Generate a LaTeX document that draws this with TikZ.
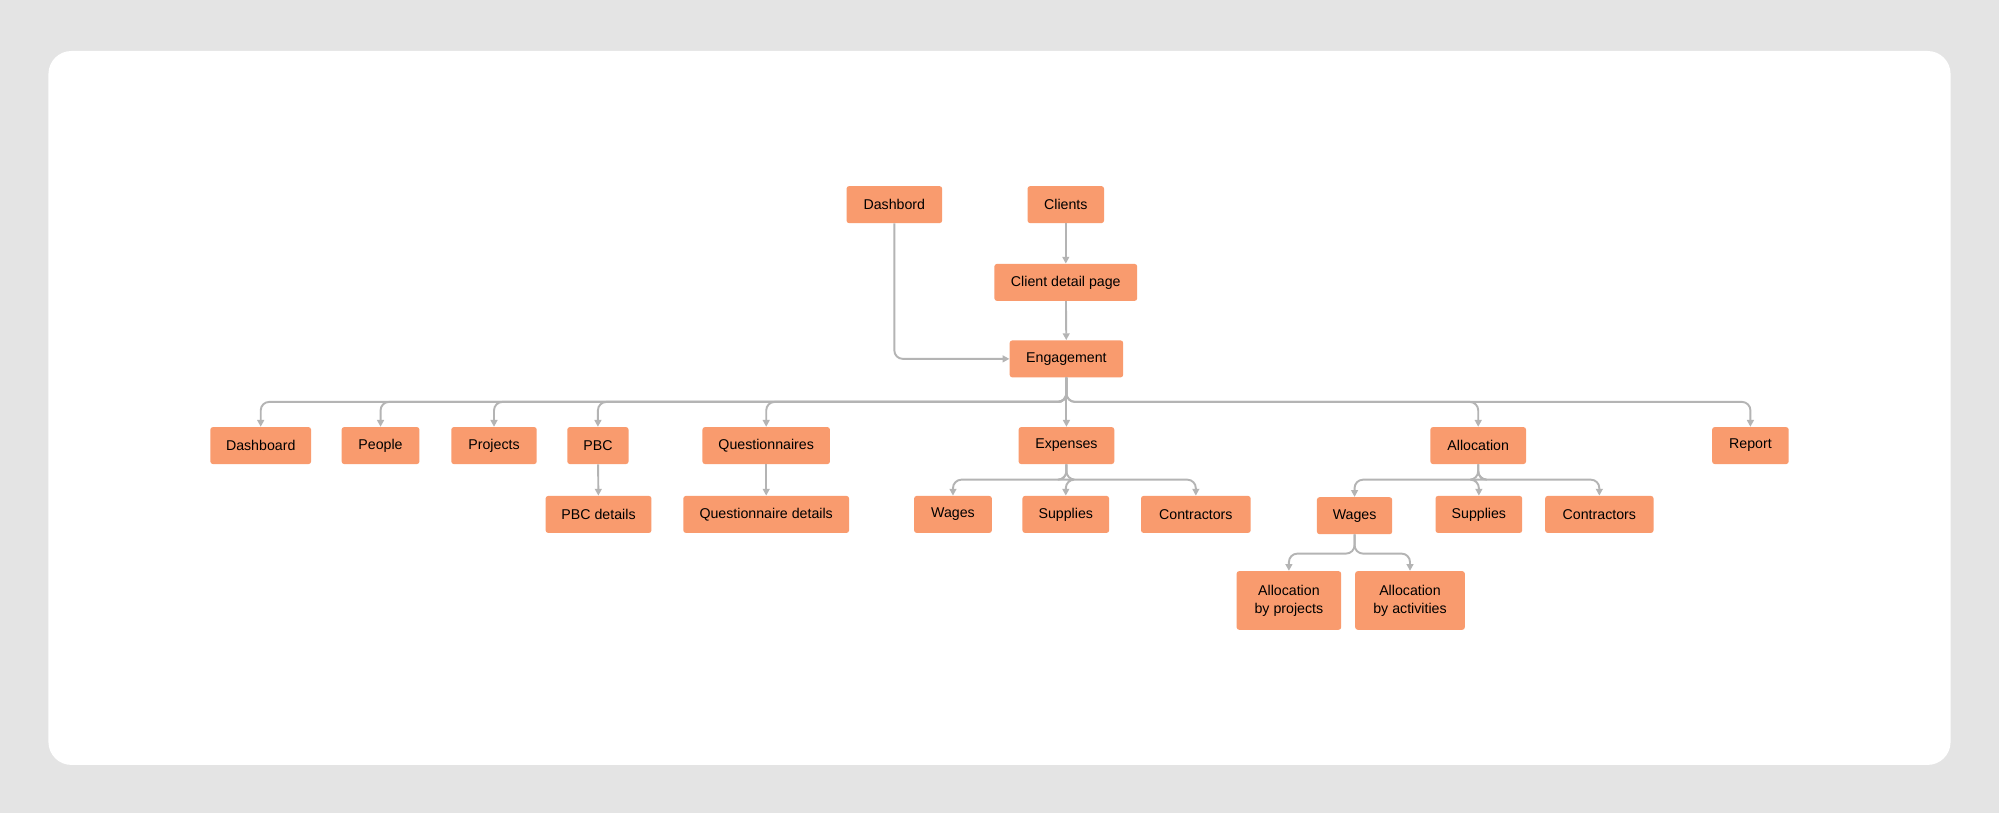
\documentclass[tikz,border=0pt]{standalone}
\usepackage{fontspec}
\setmainfont{Liberation Sans}
\usetikzlibrary{arrows.meta}
\definecolor{boxfill}{HTML}{F99B6E}
\definecolor{linegray}{HTML}{B4B4B4}
\definecolor{bggray}{HTML}{E4E4E4}
\begin{document}
\begin{tikzpicture}[x=0.3mm,y=-0.3mm,
  box/.style = {fill=boxfill, rounded corners=0.6mm, minimum height=8.7mm,
                inner sep=0pt, align=center, font=\fontsize{9.5}{12}\selectfont},
  link/.style = {draw=linegray, line width=0.45mm, rounded corners=2mm,
                 -{Triangle[length=1.6mm,width=1.6mm]}}]

  \fill[bggray] (0,0) rectangle (1568,638);
  \fill[white,rounded corners=5.4mm] (38,40) rectangle (1530,600);

  % top
  \node[box,minimum width=22.5mm] (dashbord) at (701.5,160.5) {Dashbord};
  \node[box,minimum width=18mm] (clients) at (836,160.5) {Clients};
  \node[box,minimum width=33.6mm] (detail) at (836,221.5) {Client detail page};
  \node[box,minimum width=26.7mm] (eng) at (836.5,281.5) {Engagement};

  % engagement row
  \node[box,minimum width=23.7mm] (dash) at (204.5,349.5) {Dashboard};
  \node[box,minimum width=18.3mm] (people) at (298.5,349.5) {People};
  \node[box,minimum width=20.1mm] (proj) at (387.5,349.5) {Projects};
  \node[box,minimum width=14.4mm] (pbc) at (469,349.5) {PBC};
  \node[box,minimum width=30mm] (quest) at (601,349.5) {Questionnaires};
  \node[box,minimum width=22.5mm] (exp) at (836.5,349.5) {Expenses};
  \node[box,minimum width=22.5mm] (alloc) at (1159.5,349.5) {Allocation};
  \node[box,minimum width=18mm] (report) at (1373,349.5) {Report};

  % third row
  \node[box,minimum width=24.9mm] (pbcdet) at (469.5,403.5) {PBC details};
  \node[box,minimum width=39mm] (questdet) at (601,403.5) {Questionnaire details};
  \node[box,minimum width=18.3mm] (expwages) at (747.5,403.5) {Wages};
  \node[box,minimum width=20.4mm] (expsupp) at (836,403.5) {Supplies};
  \node[box,minimum width=25.8mm] (expcont) at (938,403.5) {Contractors};
  \node[box,minimum width=17.7mm] (alwages) at (1062.5,404.5) {Wages};
  \node[box,minimum width=20.4mm] (alsupp) at (1160,403.5) {Supplies};
  \node[box,minimum width=25.5mm] (alcont) at (1254.5,403.5) {Contractors};

  % wages split
  \node[box,minimum width=24.6mm,minimum height=13.8mm] (byproj) at (1011,471) {Allocation\\by projects};
  \node[box,minimum width=25.8mm,minimum height=13.8mm] (byact) at (1106,471) {Allocation\\by activities};

  \draw[link] (clients) -- (detail);
  \draw[link] (detail) -- (eng);
  \draw[link] (dashbord.south) |- (eng.west);

  \foreach \c in {dash,people,proj,pbc,quest,exp,alloc,report}
    \draw[link] (eng.south) -- ++(0,19) -| (\c.north);
  \draw[link] (pbc) -- (pbcdet);
  \draw[link] (quest) -- (questdet);
  \foreach \c in {expwages,expsupp,expcont}
    \draw[link] (exp.south) -- ++(0,12) -| (\c.north);
  \foreach \c in {alwages,alsupp,alcont}
    \draw[link] (alloc.south) -- ++(0,12) -| (\c.north);
  \foreach \c in {byproj,byact}
    \draw[link] (alwages.south) -- ++(0,15) -| (\c.north);
\end{tikzpicture}
\end{document}
